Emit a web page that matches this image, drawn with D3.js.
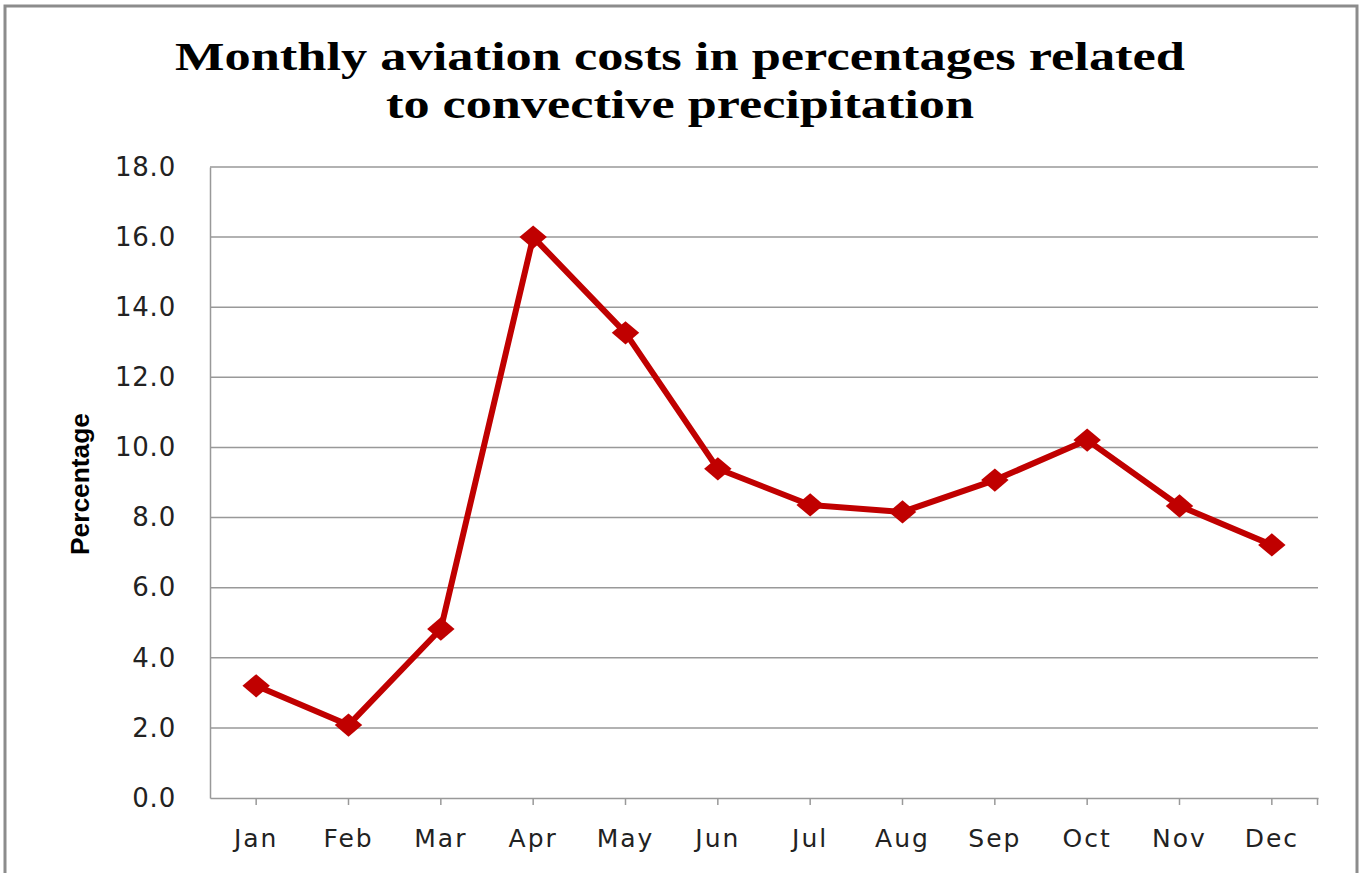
<!DOCTYPE html>
<html>
<head>
<meta charset="utf-8">
<script src="https://cdn.jsdelivr.net/npm/d3@7"></script>
<style>
  body { margin: 0; background: #fff; }
  svg { display: block; }
</style>
</head>
<body>
<div></div>
<script>
// chart data
var months = ["Jan", "Feb", "Mar", "Apr", "May", "Jun", "Jul", "Aug", "Sep", "Oct", "Nov", "Dec"];
var percent = [3.2, 2.08, 4.82, 16.0, 13.27, 9.39, 8.36, 8.16, 9.07, 10.21, 8.33, 7.22];
var yTicks = [0, 2, 4, 6, 8, 10, 12, 14, 16, 18];
var titleLines = ["Monthly aviation costs in percentages related", "to convective precipitation"];
var titleWidths = [1010, 588];

var width = 1365, height = 873;
var plot = {left: 210, right: 1318, top: 167, bottom: 798};
var lineColor = "#C00000";
var gridColor = "#999999";

var svg = d3.select("div").append("svg")
    .attr("width", width)
    .attr("height", height);

// outer frame
svg.append("rect")
    .attr("x", 5).attr("y", 6)
    .attr("width", 1352).attr("height", 880)
    .attr("fill", "none")
    .attr("stroke", "#8c8c8c")
    .attr("stroke-width", 3);

var x = d3.scaleBand().domain(months).range([plot.left, plot.right]);
var y = d3.scaleLinear().domain([0, 18]).range([plot.bottom, plot.top]);

// gridlines
svg.append("g")
    .selectAll("line")
    .data(yTicks.filter(function(d) { return d > 0; }))
    .join("line")
    .attr("x1", plot.left).attr("x2", plot.right)
    .attr("y1", function(d) { return y(d); })
    .attr("y2", function(d) { return y(d); })
    .attr("stroke", gridColor)
    .attr("stroke-width", 1.5);

// y axis
var yAxis = svg.append("g")
    .attr("transform", "translate(" + plot.left + ",0)")
    .call(d3.axisLeft(y).tickValues(yTicks).tickSize(0).tickPadding(34)
          .tickFormat(d3.format(".1f")));
yAxis.select(".domain").attr("stroke", gridColor).attr("stroke-width", 1.5);
yAxis.selectAll("text")
    .attr("font-family", "DejaVu Sans, Verdana, sans-serif")
    .attr("font-size", 26)
    .attr("letter-spacing", 0.8)
    .attr("fill", "#222");

// x axis, ticks at category centres plus right edge
var xAxis = svg.append("g")
    .attr("transform", "translate(0," + plot.bottom + ")")
    .call(d3.axisBottom(x).tickSizeInner(7).tickSizeOuter(0).tickPadding(24));
xAxis.select(".domain").attr("stroke", gridColor).attr("stroke-width", 1.5);
xAxis.selectAll("line").attr("stroke", gridColor).attr("stroke-width", 1.5);
xAxis.append("line")
    .attr("x1", plot.right - 0.5).attr("x2", plot.right - 0.5)
    .attr("y1", 0).attr("y2", 7)
    .attr("stroke", gridColor).attr("stroke-width", 1.5);
xAxis.selectAll("text")
    .attr("font-family", "DejaVu Sans, Verdana, sans-serif")
    .attr("font-size", 25)
    .attr("letter-spacing", 2)
    .attr("fill", "#222");

// y axis title
svg.append("text")
    .attr("transform", "translate(89,484) rotate(-90)")
    .attr("text-anchor", "middle")
    .attr("font-family", "Liberation Sans, Arial, sans-serif")
    .attr("font-weight", "bold")
    .attr("font-size", 26)
    .attr("textLength", 142)
    .attr("lengthAdjust", "spacingAndGlyphs")
    .text("Percentage");

// chart title
svg.append("g").selectAll("text")
    .data(titleLines)
    .join("text")
    .attr("x", 680)
    .attr("y", function(d, i) { return 70 + i * 48; })
    .attr("text-anchor", "middle")
    .attr("font-family", "Liberation Serif, Times New Roman, serif")
    .attr("font-weight", "bold")
    .attr("font-size", 40)
    .attr("textLength", function(d, i) { return titleWidths[i]; })
    .attr("lengthAdjust", "spacingAndGlyphs")
    .text(function(d) { return d; });

// line
var cx = function(d, i) { return x(months[i]) + x.bandwidth() / 2; };
svg.append("path")
    .datum(percent)
    .attr("d", d3.line().x(cx).y(function(d) { return y(d); }))
    .attr("fill", "none")
    .attr("stroke", lineColor)
    .attr("stroke-width", 6)
    .attr("stroke-linejoin", "round");

// diamond markers
var diamond = d3.symbol().type(d3.symbolDiamond2).size(480);
svg.append("g").selectAll("path")
    .data(percent)
    .join("path")
    .attr("transform", function(d, i) { return "translate(" + cx(d, i) + "," + y(d) + ") scale(1,0.85)"; })
    .attr("d", diamond)
    .attr("fill", lineColor);
</script>
</body>
</html>
